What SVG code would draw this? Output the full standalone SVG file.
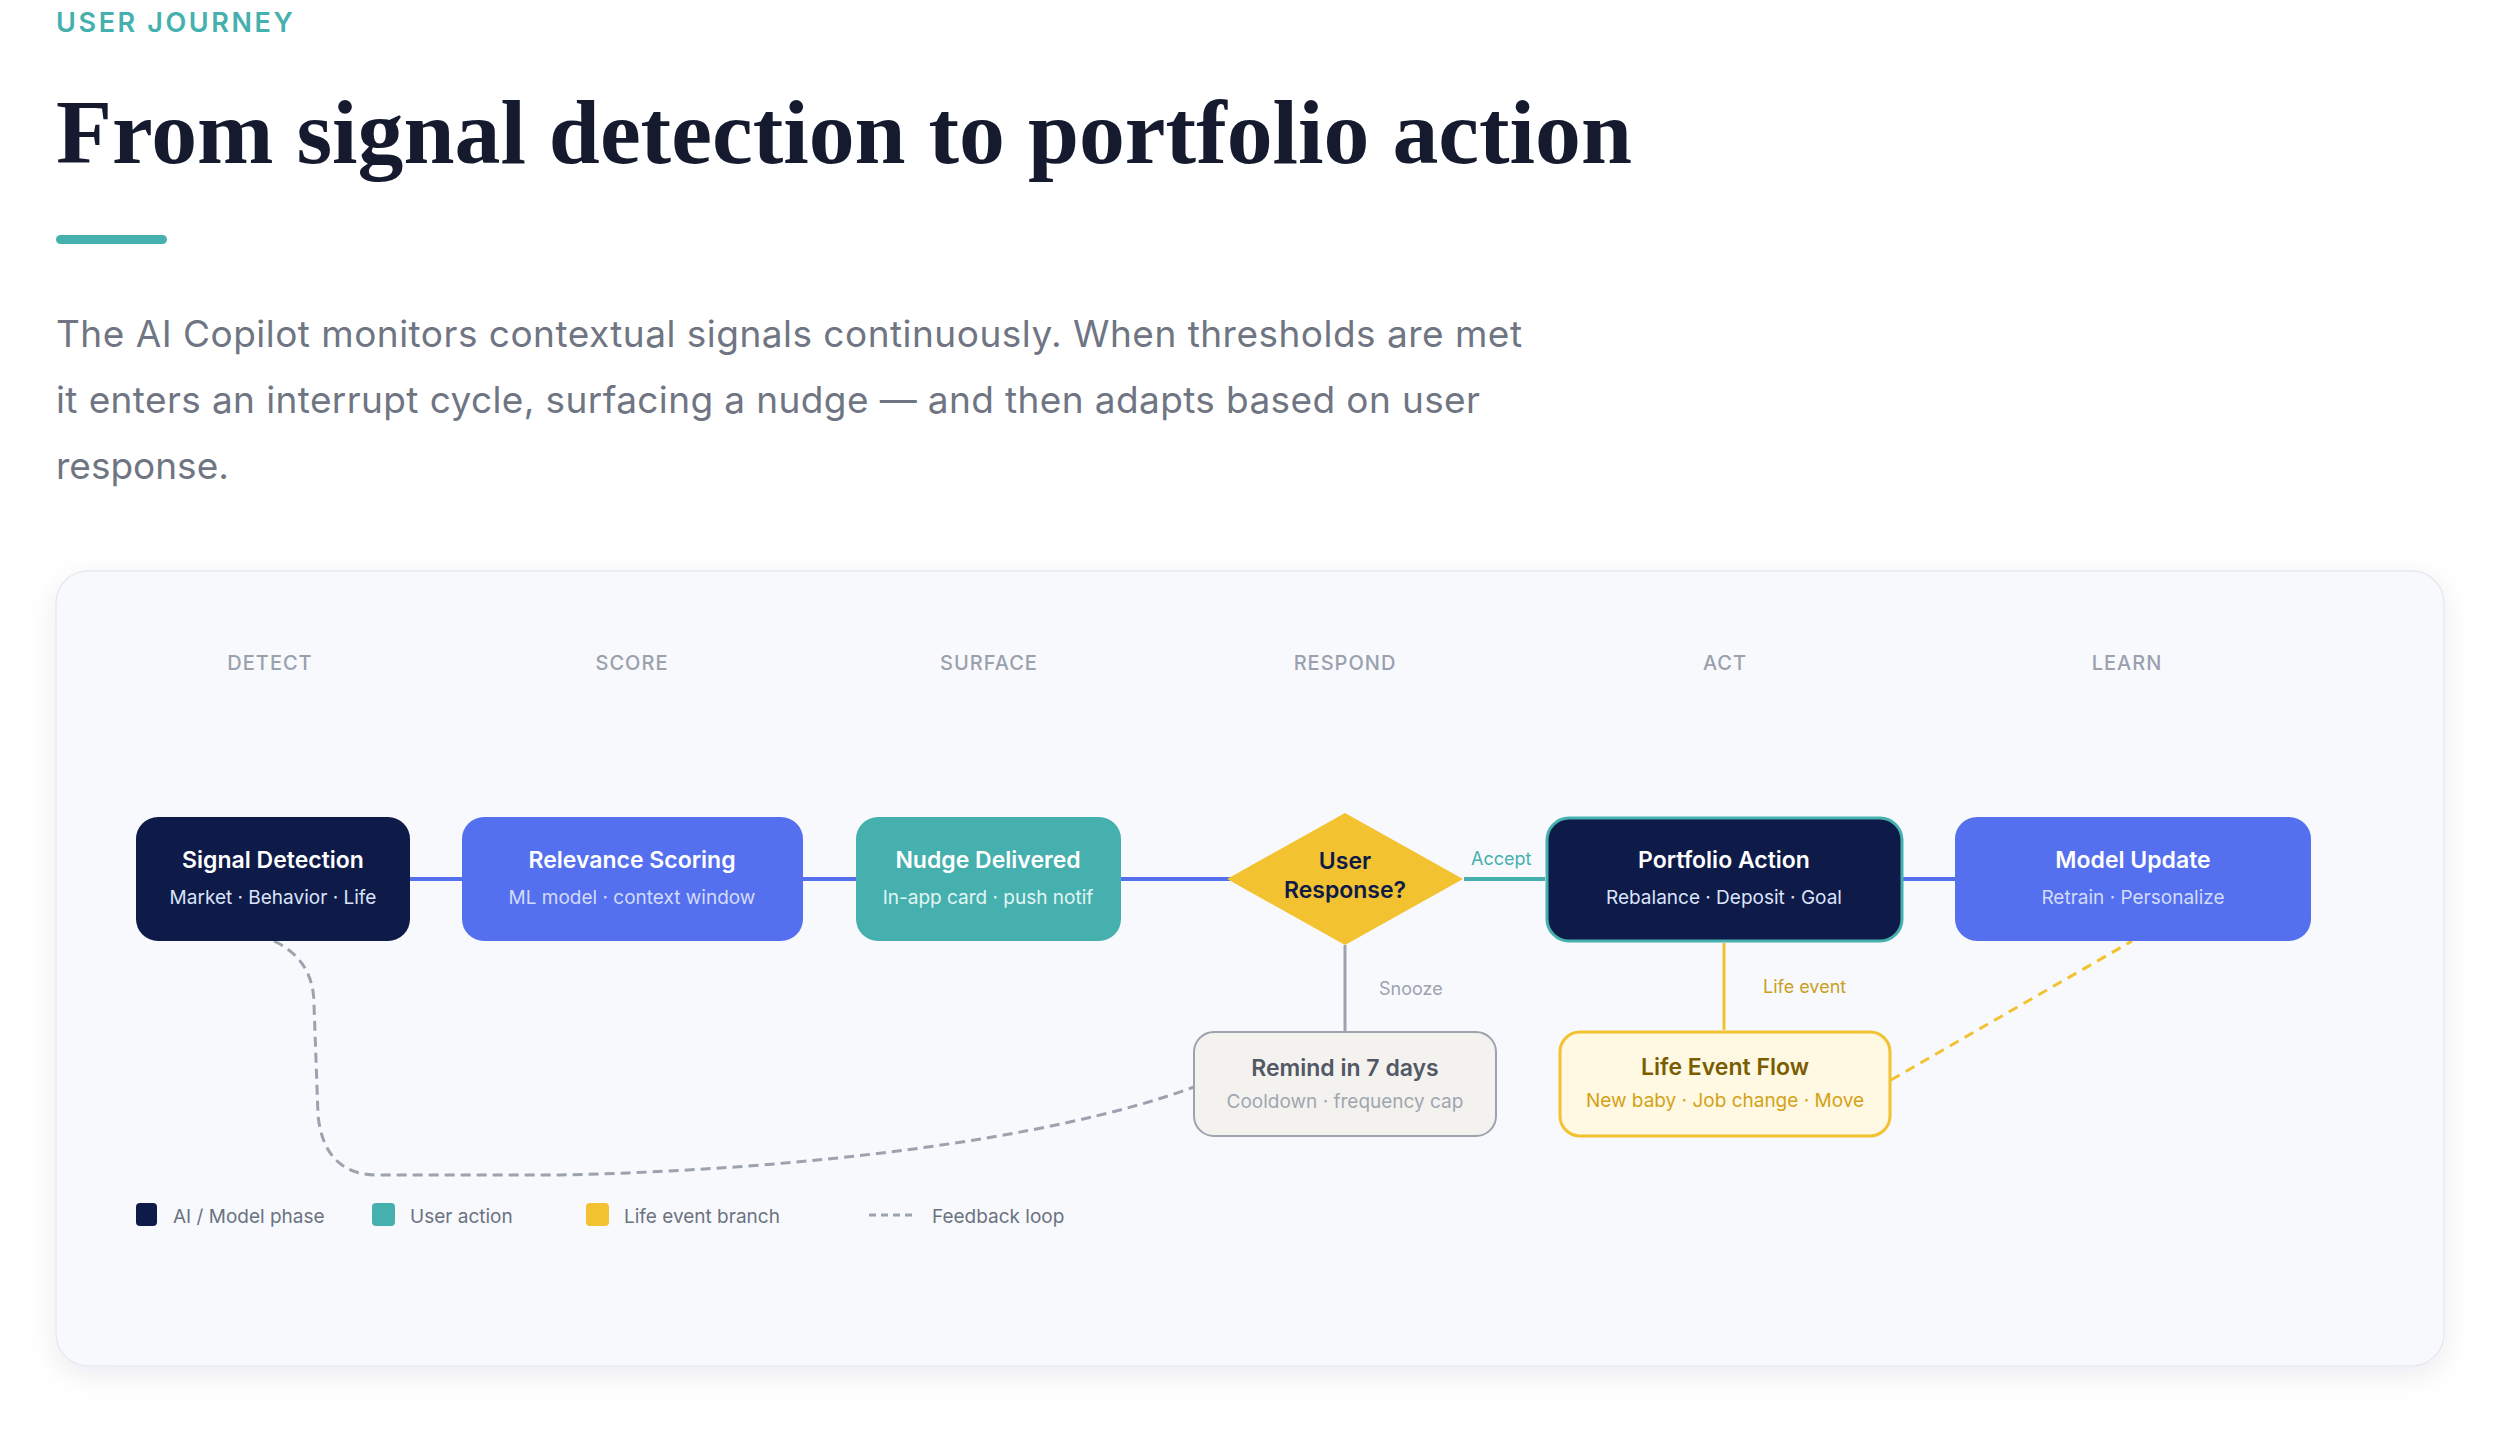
<svg xmlns="http://www.w3.org/2000/svg" width="2500" height="1431" viewBox="0 0 2500 1431">
<defs>
<filter id="shadow" x="-5%" y="-8%" width="110%" height="120%">
<feDropShadow dx="0" dy="8" stdDeviation="14" flood-color="#1e293b" flood-opacity="0.08"/>
</filter>
<style>
.sans{font-family:Inter,"Liberation Sans",sans-serif}
.stage{font-family:Inter,"Liberation Sans",sans-serif;font-size:20px;font-weight:500;fill:#9aa1ad;letter-spacing:1px;text-anchor:middle}
.ntitle{font-family:Inter,"Liberation Sans",sans-serif;font-size:23px;font-weight:600;text-anchor:middle}
.nsub{font-family:Inter,"Liberation Sans",sans-serif;font-size:19px;font-weight:400;text-anchor:middle}
.clabel{font-family:Inter,"Liberation Sans",sans-serif;font-size:18px;font-weight:400}
.legend{font-family:Inter,"Liberation Sans",sans-serif;font-size:19px;fill:#6b7280}
.flow{stroke:#5470ef;stroke-width:4;fill:none}
</style>
</defs>
<rect width="2500" height="1431" fill="#ffffff"/>

<g id="header">
<text x="56" y="32" class="sans" font-size="27" font-weight="600" fill="#45b0ae" letter-spacing="2.6">USER JOURNEY</text>
<text x="56" y="163" font-family="'Liberation Serif','DejaVu Serif',serif" font-size="90" font-weight="700" fill="#161a2e" textLength="1576" lengthAdjust="spacingAndGlyphs">From signal detection to portfolio action</text>
<rect x="56" y="235" width="111" height="9" rx="4.5" fill="#45b0ae"/>
<text x="56" y="347" class="sans" font-size="37" fill="#6f7582" textLength="1466" lengthAdjust="spacing">The AI Copilot monitors contextual signals continuously. When thresholds are met</text>
<text x="56" y="413" class="sans" font-size="37" fill="#6f7582" textLength="1424" lengthAdjust="spacing">it enters an interrupt cycle, surfacing a nudge — and then adapts based on user</text>
<text x="56" y="479" class="sans" font-size="37" fill="#6f7582">response.</text>
</g>

<g id="card">
<rect x="56" y="571" width="2388" height="795" rx="32" fill="#f7f9fd" stroke="#e6e9ef" stroke-width="1.5" filter="url(#shadow)"/>
</g>

<g id="stages">
<text x="270" y="670" class="stage">DETECT</text>
<text x="632" y="670" class="stage">SCORE</text>
<text x="989" y="670" class="stage">SURFACE</text>
<text x="1345" y="670" class="stage">RESPOND</text>
<text x="1725" y="670" class="stage">ACT</text>
<text x="2127" y="670" class="stage">LEARN</text>
</g>

<g id="connectors">
<line class="flow" x1="410" y1="879" x2="462" y2="879"/>
<line class="flow" x1="803" y1="879" x2="856" y2="879"/>
<line class="flow" x1="1121" y1="879" x2="1230" y2="879"/>
<line x1="1464" y1="879" x2="1545" y2="879" stroke="#45b0ae" stroke-width="4"/>
<text x="1471" y="865" class="clabel" fill="#45b0ae">Accept</text>
<line class="flow" x1="1903" y1="879" x2="1955" y2="879"/>
<line x1="1345" y1="945" x2="1345" y2="1031" stroke="#9ca3af" stroke-width="3"/>
<text x="1379" y="995" class="clabel" fill="#9ca3af">Snooze</text>
<line x1="1724" y1="943" x2="1724" y2="1030" stroke="#f2c230" stroke-width="3"/>
<text x="1763" y="993" class="clabel" fill="#c9a01c">Life event</text>
<path d="M 1891 1080 L 2132 941" stroke="#f2c230" stroke-width="3" stroke-dasharray="10 7" fill="none"/>
<path d="M 274 941 Q 314 960 314 1005 L 318 1115 Q 324 1175 378 1175 L 560 1175 C 800 1170 1050 1140 1194 1087" stroke="#9ca3af" stroke-width="3" stroke-dasharray="10 6" fill="none"/>
</g>

<g id="node-signal">
<rect x="136" y="817" width="274" height="124" rx="22" fill="#0e1a47"/>
<text x="273" y="868" class="ntitle" fill="#ffffff">Signal Detection</text>
<text x="273" y="904" class="nsub" fill="#dbe3fb">Market · Behavior · Life</text>
</g>
<g id="node-relevance">
<rect x="462" y="817" width="341" height="124" rx="22" fill="#5470ef"/>
<text x="632" y="868" class="ntitle" fill="#ffffff">Relevance Scoring</text>
<text x="632" y="904" class="nsub" fill="#d3dbfb">ML model · context window</text>
</g>
<g id="node-nudge">
<rect x="856" y="817" width="265" height="124" rx="22" fill="#45b0ae"/>
<text x="988" y="868" class="ntitle" fill="#ffffff">Nudge Delivered</text>
<text x="988" y="904" class="nsub" fill="#e3f5f4">In-app card · push notif</text>
</g>
<g id="node-decision">
<polygon points="1345,813 1463,879 1345,945 1227,879" fill="#f2c230"/>
<text x="1345" y="869" class="ntitle" font-size="21" font-weight="700" fill="#0e1a47">User</text>
<text x="1345" y="898" class="ntitle" font-size="21" font-weight="700" fill="#0e1a47">Response?</text>
</g>
<g id="node-portfolio">
<rect x="1547" y="818" width="355" height="123" rx="22" fill="#0e1a47" stroke="#45b0ae" stroke-width="3"/>
<text x="1724" y="868" class="ntitle" fill="#ffffff">Portfolio Action</text>
<text x="1724" y="904" class="nsub" fill="#dbe3fb">Rebalance · Deposit · Goal</text>
</g>
<g id="node-model">
<rect x="1955" y="817" width="356" height="124" rx="22" fill="#5470ef"/>
<text x="2133" y="868" class="ntitle" fill="#ffffff">Model Update</text>
<text x="2133" y="904" class="nsub" fill="#d3dbfb">Retrain · Personalize</text>
</g>
<g id="node-remind">
<rect x="1194" y="1032" width="302" height="104" rx="20" fill="#f3f2ee" stroke="#9ca3af" stroke-width="2"/>
<text x="1345" y="1076" class="ntitle" fill="#525866">Remind in 7 days</text>
<text x="1345" y="1108" class="nsub" fill="#a0a6b0">Cooldown · frequency cap</text>
</g>
<g id="node-lifeevent">
<rect x="1560" y="1032" width="330" height="104" rx="20" fill="#fff8e3" stroke="#f2c230" stroke-width="3"/>
<text x="1725" y="1075" class="ntitle" fill="#7a5d00">Life Event Flow</text>
<text x="1725" y="1107" class="nsub" fill="#d4a216">New baby · Job change · Move</text>
</g>

<g id="legend">
<rect x="136" y="1203" width="21" height="23" rx="4" fill="#0e1a47"/>
<text x="173" y="1223" class="legend">AI / Model phase</text>
<rect x="372" y="1203" width="23" height="23" rx="4" fill="#45b0ae"/>
<text x="410" y="1223" class="legend">User action</text>
<rect x="586" y="1203" width="23" height="23" rx="4" fill="#f2c230"/>
<text x="624" y="1223" class="legend">Life event branch</text>
<line x1="869" y1="1215" x2="917" y2="1215" stroke="#9ca3af" stroke-width="3" stroke-dasharray="7 5"/>
<text x="932" y="1223" class="legend">Feedback loop</text>
</g>
</svg>
